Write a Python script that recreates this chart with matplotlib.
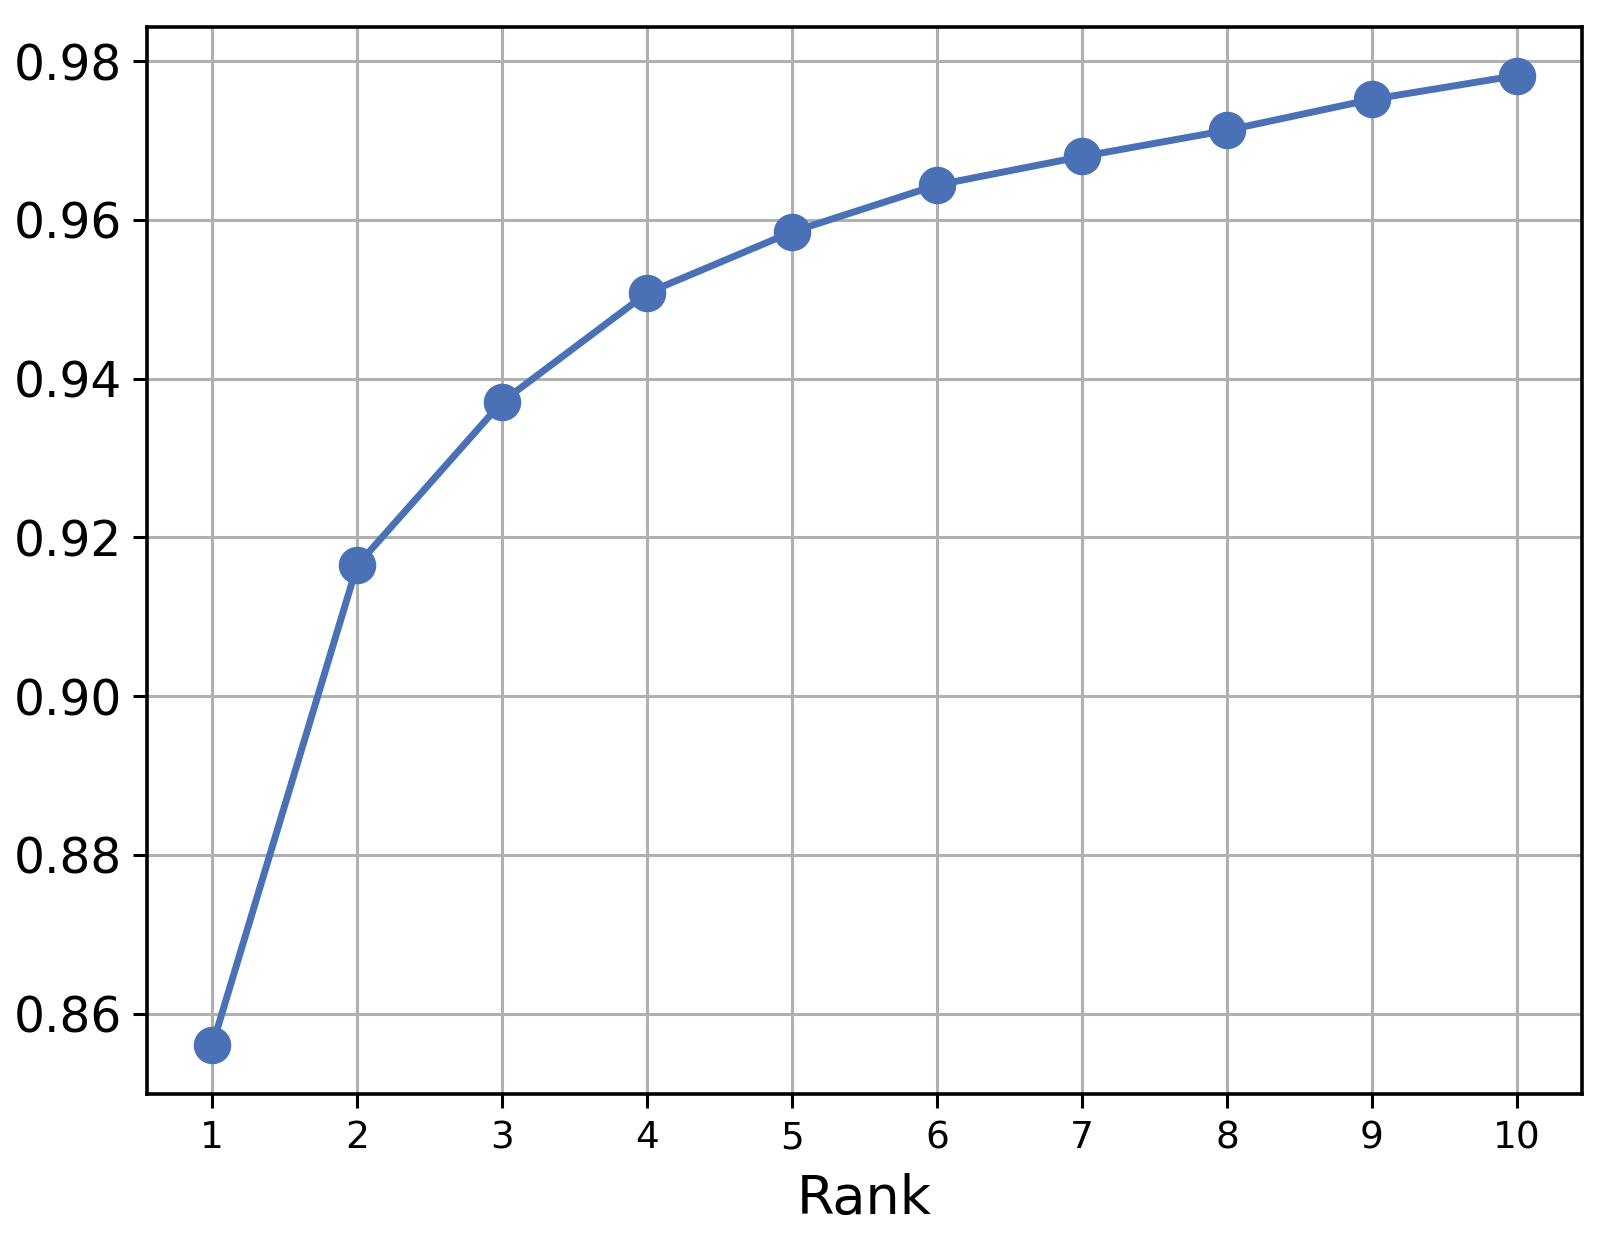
import matplotlib
matplotlib.use("Agg")
import matplotlib.pyplot as plt

# values
ranks = [1, 2, 3, 4, 5, 6, 7, 8, 9, 10]
accuracy = [0.856, 0.9165, 0.9371, 0.9508, 0.9585, 0.9644, 0.9680, 0.9713, 0.9752, 0.9782]
x_ticks = ranks
y_ticks = [0.86, 0.88, 0.90, 0.92, 0.94, 0.96, 0.98]

fig = plt.figure(figsize=(16, 12.46), dpi=100)
ax = fig.add_axes([0.0919, 0.122, 0.8969, 0.8563])

ax.plot(ranks, accuracy, color="#4A70B5", linewidth=5, marker="o", markersize=26)

ax.set_xticks(x_ticks)
ax.set_yticks(y_ticks)
ax.set_yticklabels([f"{v:.2f}" for v in y_ticks])
ax.tick_params(axis="y", labelsize=35, length=10, width=2.2, pad=8)
ax.tick_params(axis="x", labelsize=27, length=10, width=2.2, pad=9)
ax.set_xlabel("Rank", fontsize=39, labelpad=12)

ax.grid(True, color="#b0b0b0", linewidth=2.2)
ax.set_axisbelow(True)
for s in ax.spines.values():
    s.set_linewidth(2.6)

plt.savefig("out.png", dpi=100)
